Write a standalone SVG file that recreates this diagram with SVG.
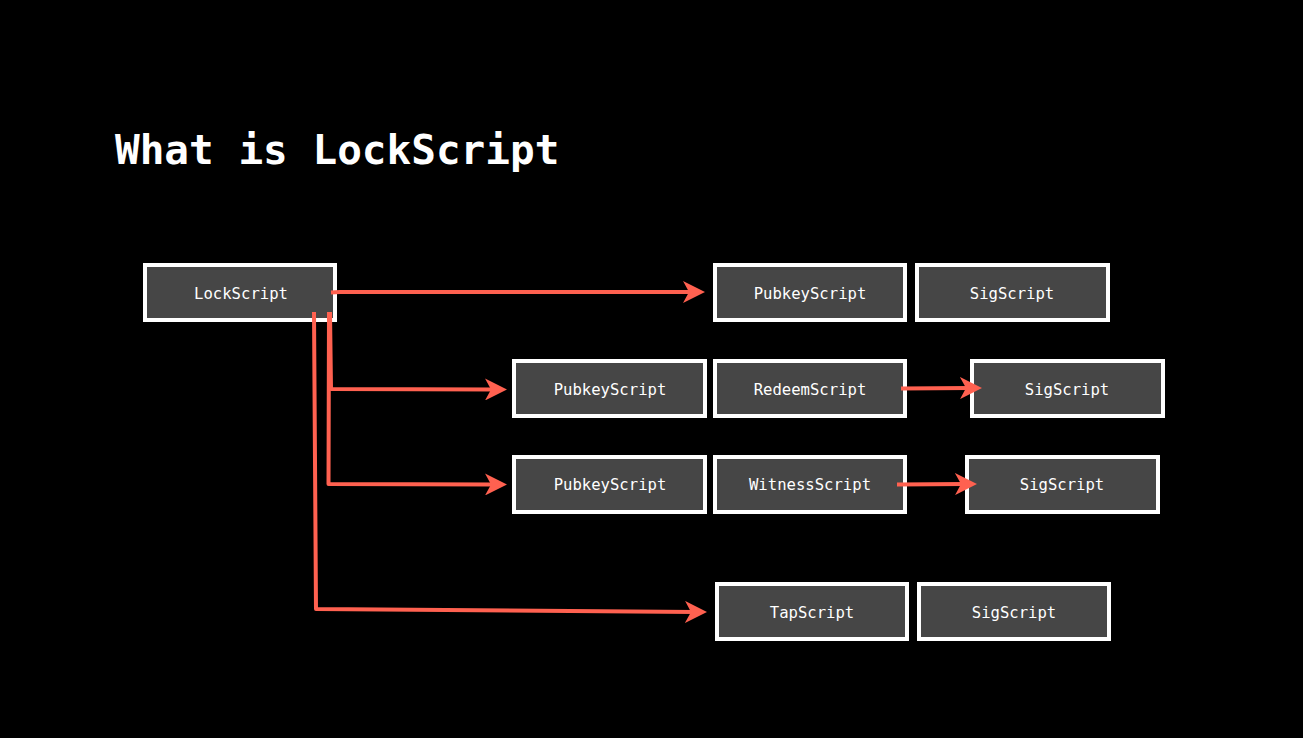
<svg xmlns="http://www.w3.org/2000/svg" width="1303" height="738" viewBox="0 0 1303 738">
<style>
.box rect{fill:#464646;stroke:#ffffff;stroke-width:4}
.box text{fill:#ffffff;font-family:"DejaVu Sans Mono","Liberation Mono",monospace;font-size:15.6px;text-anchor:middle}
.title{fill:#ffffff;font-family:"DejaVu Sans Mono","Liberation Mono",monospace;font-size:41px;font-weight:bold}
.conn path{fill:none;stroke:#ff6150;stroke-width:4;stroke-linejoin:round;marker-end:url(#ah)}
</style>
<defs>
<marker id="ah" markerUnits="userSpaceOnUse" viewBox="0 0 22 22" markerWidth="22" markerHeight="22" refX="10" refY="11" orient="auto">
<path d="M22,11 L0,0 L6,11 L0,22 Z" fill="#ff6150"/>
</marker>
</defs>
<rect width="1303" height="738" fill="#000000"/>
<text class="title" x="115" y="164">What is LockScript</text>

<g id="lockscript" class="box"><rect x="145" y="265" width="190" height="55"/><text x="241" y="299">LockScript</text></g>

<g id="pubkey1" class="box"><rect x="715" y="265" width="190" height="55"/><text x="810" y="299">PubkeyScript</text></g>
<g id="sig1" class="box"><rect x="917" y="265" width="191" height="55"/><text x="1012" y="299">SigScript</text></g>

<g id="pubkey2" class="box"><rect x="514" y="361" width="191" height="55"/><text x="610" y="395">PubkeyScript</text></g>
<g id="redeem" class="box"><rect x="715" y="361" width="190" height="55"/><text x="810" y="395">RedeemScript</text></g>
<g id="sig2" class="box"><rect x="972" y="361" width="191" height="55"/><text x="1067" y="395">SigScript</text></g>

<g id="pubkey3" class="box"><rect x="514" y="457" width="191" height="55"/><text x="610" y="490">PubkeyScript</text></g>
<g id="witness" class="box"><rect x="715" y="457" width="190" height="55"/><text x="810" y="490">WitnessScript</text></g>
<g id="sig3" class="box"><rect x="967" y="457" width="191" height="55"/><text x="1062" y="490">SigScript</text></g>

<g id="tapscript" class="box"><rect x="717" y="584" width="190" height="55"/><text x="812" y="618">TapScript</text></g>
<g id="sig4" class="box"><rect x="919" y="584" width="190" height="55"/><text x="1014" y="618">SigScript</text></g>

<g id="connectors" class="conn">
<path d="M331,292.5 L340,292 L693,292"/>
<path d="M330,312 L331,389 L495,389.5"/>
<path d="M329,312 L328.5,484 L495,484.5"/>
<path d="M314,312 L316,609 L695,612"/>
<path d="M901,388.5 L970,388"/>
<path d="M897,484.5 L965,484"/>
</g>
</svg>
